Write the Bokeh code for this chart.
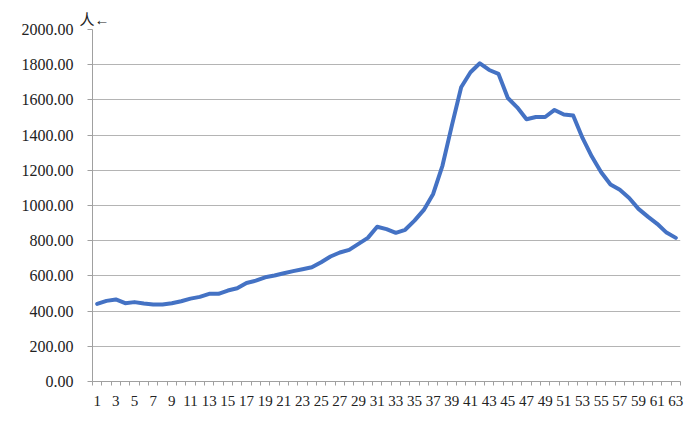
from bokeh.plotting import figure
from bokeh.models import Range1d, FixedTicker, NumeralTickFormatter, Title
from bokeh.embed import file_html
from bokeh.resources import INLINE

# data
categories = list(range(1, 64))
values = [441, 458, 466, 445, 451, 443, 437, 437, 445, 456,
          471, 481, 498, 498, 517, 530, 560, 573, 592, 602,
          615, 627, 638, 649, 678, 710, 733, 748, 782, 816,
          879, 866, 845, 862, 914, 975, 1066, 1227, 1454, 1672,
          1757, 1808, 1770, 1748, 1611, 1558, 1490, 1503, 1503, 1543,
          1517, 1511, 1384, 1278, 1189, 1119, 1089, 1043, 981, 937,
          896, 846, 816]
y_ticks = [0, 200, 400, 600, 800, 1000, 1200, 1400, 1600, 1800, 2000]
x_label_ticks = list(range(1, 64, 2))
unit_label = "人←"

p = figure(width=692, height=416, output_backend="svg", toolbar_location=None,
           x_range=Range1d(0.5, 63.5), y_range=Range1d(0, 2000),
           min_border_left=92, min_border_right=12, min_border_top=29, min_border_bottom=35)
p.outline_line_color = None
p.background_fill_color = "white"

p.line(categories, values, line_color="#4472C4", line_width=4, line_join="round", line_cap="round")

axis_color = "#a0a0a0"
font = "Liberation Serif"

# y axis
p.yaxis.ticker = FixedTicker(ticks=y_ticks)
p.yaxis.formatter = NumeralTickFormatter(format="0.00")
p.yaxis.axis_line_color = axis_color
p.yaxis.major_tick_line_color = axis_color
p.yaxis.major_tick_out = 5
p.yaxis.major_tick_in = 0
p.yaxis.minor_tick_line_color = None
p.yaxis.major_label_text_font = font
p.yaxis.major_label_text_font_size = "16px"
p.yaxis.major_label_text_color = "#222222"
p.yaxis.major_label_standoff = 14

# x axis
p.xaxis.ticker = FixedTicker(ticks=x_label_ticks, minor_ticks=[c - 0.5 for c in categories] + [63.5])
p.xaxis.axis_line_color = axis_color
p.xaxis.major_tick_line_color = None
p.xaxis.major_tick_out = 0
p.xaxis.major_tick_in = 0
p.xaxis.minor_tick_line_color = axis_color
p.xaxis.minor_tick_out = 4
p.xaxis.minor_tick_in = 0
p.xaxis.major_label_text_font = font
p.xaxis.major_label_text_font_size = "15px"
p.xaxis.major_label_text_color = "#222222"
p.xaxis.major_label_standoff = 10

p.xgrid.grid_line_color = None
p.ygrid.ticker = FixedTicker(ticks=y_ticks)
p.ygrid.grid_line_color = "#b4b4b4"
p.ygrid.grid_line_width = 1

p.title = Title(text=unit_label, align="left", offset=-13, standoff=4,
                text_font="Liberation Serif, Noto Sans CJK SC", text_font_size="15px",
                text_font_style="normal", text_color="#222222")

open("out.html", "w").write(file_html(p, INLINE))
